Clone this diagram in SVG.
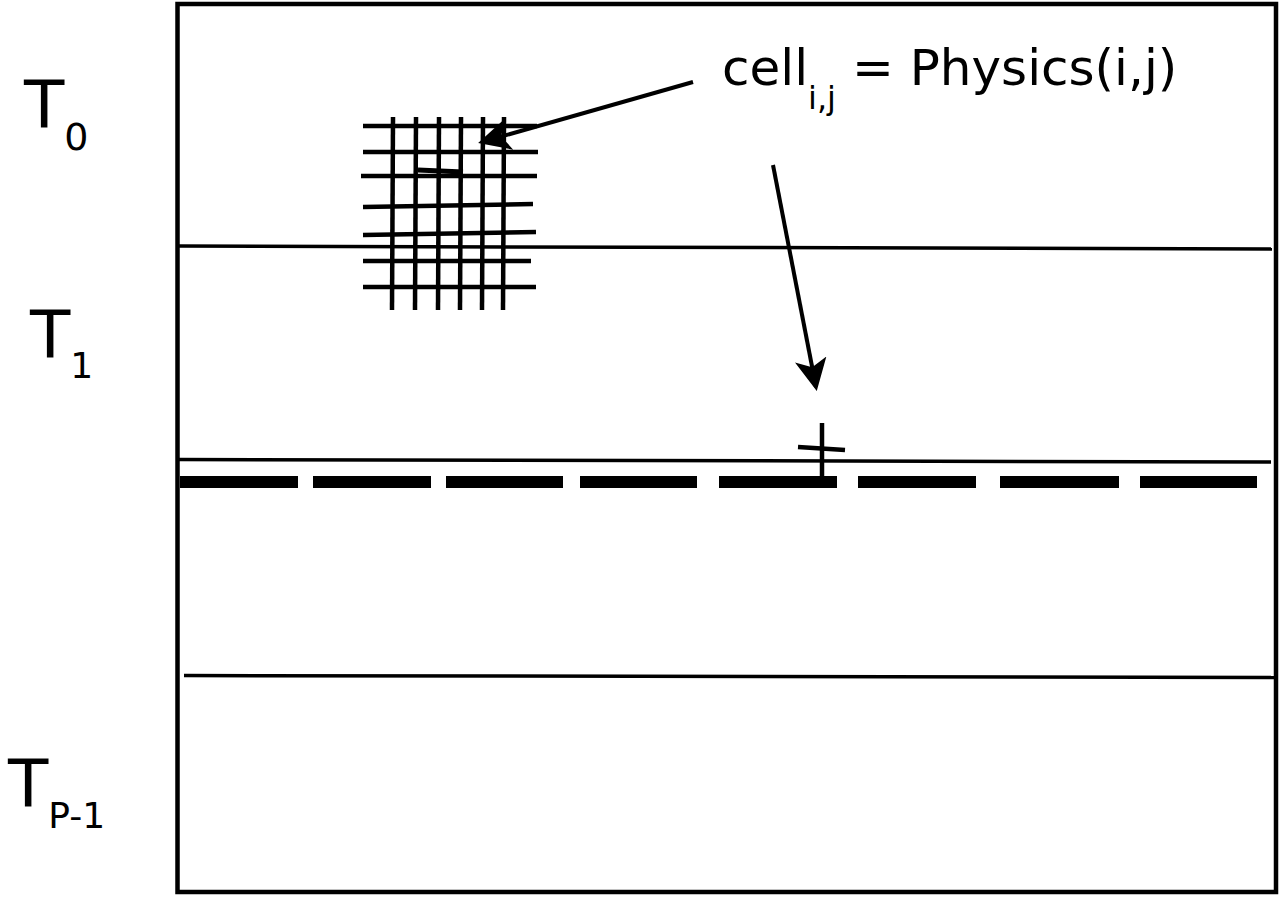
<svg xmlns="http://www.w3.org/2000/svg" width="1279" height="898" viewBox="0 0 1279 898">
<style>
.ln{stroke:#000;stroke-width:3.5;fill:none}
.gr{stroke:#000;stroke-width:4.5;fill:none}
.lbl{font-family:"DejaVu Sans","Open Sans",sans-serif;fill:#000}
</style>
<defs>
<marker id="ah" markerWidth="8" markerHeight="8" refX="7" refY="4" orient="auto" markerUnits="strokeWidth">
<path d="M0,0 L8,4 L0,8 L2,4 Z" fill="#000"/>
</marker>
</defs>
<rect width="1279" height="898" fill="#fff"/>
<g id="frame">
<rect x="177.5" y="4" width="1098.5" height="888" fill="none" stroke="#000" stroke-width="4.5"/>
</g>
<g id="partitions">
<line class="ln" x1="178" y1="246" x2="1272" y2="249"/>
<line class="ln" x1="178" y1="459.5" x2="1271" y2="462"/>
<line class="ln" x1="184" y1="675.5" x2="1274" y2="677.5"/>
</g>
<g id="ghost-boundary" fill="#000">
<rect x="180" y="476" width="118" height="12"/>
<rect x="313" y="476" width="118" height="12"/>
<rect x="446" y="476" width="117" height="12"/>
<rect x="580" y="476" width="117" height="12"/>
<rect x="719" y="476" width="118" height="12"/>
<rect x="858" y="476" width="118" height="12"/>
<rect x="1000" y="476" width="119" height="12"/>
<rect x="1140" y="476" width="117" height="12"/>
</g>
<g id="grid">
<line class="gr" x1="363" y1="126" x2="537" y2="126"/>
<line class="gr" x1="363" y1="152" x2="538" y2="152"/>
<line class="gr" x1="361" y1="176" x2="537" y2="176"/>
<line class="gr" x1="363" y1="207" x2="533" y2="204"/>
<line class="gr" x1="363" y1="235" x2="536" y2="232"/>
<line class="gr" x1="363" y1="261" x2="531" y2="261"/>
<line class="gr" x1="363" y1="287" x2="536" y2="287"/>
<line class="gr" x1="393" y1="117" x2="392" y2="310"/>
<line class="gr" x1="416" y1="117" x2="415" y2="310"/>
<line class="gr" x1="439" y1="117" x2="438" y2="310"/>
<line class="gr" x1="461" y1="117" x2="460" y2="310"/>
<line class="gr" x1="483" y1="117" x2="482" y2="310"/>
<line class="gr" x1="504" y1="117" x2="503" y2="310"/>
<line stroke="#000" stroke-width="5" x1="418" y1="170" x2="463" y2="172"/>
</g>
<g id="cell">
<line class="gr" x1="822" y1="423" x2="822" y2="476"/>
<line class="gr" x1="798" y1="447" x2="845" y2="450"/>
</g>
<g id="connectors">
<line stroke="#000" stroke-width="4" x1="693" y1="82" x2="482" y2="142" marker-end="url(#ah)"/>
<line stroke="#000" stroke-width="4" x1="773" y1="165" x2="816" y2="387" marker-end="url(#ah)"/>
</g>
<g id="formula">
<text class="lbl" x="722" y="85" font-size="50">cell<tspan font-size="32" dy="24">i,j</tspan><tspan dy="-24"> = Physics(i,j)</tspan></text>
</g>
<g id="labels">
<text class="lbl" x="24" y="128" font-size="66">T<tspan font-size="38" dy="22">0</tspan></text>
<text class="lbl" x="30" y="358" font-size="66">T<tspan font-size="36" dy="20">1</tspan></text>
<text class="lbl" x="8" y="807" font-size="66">T<tspan font-size="36" dy="21">P-1</tspan></text>
</g>
</svg>
